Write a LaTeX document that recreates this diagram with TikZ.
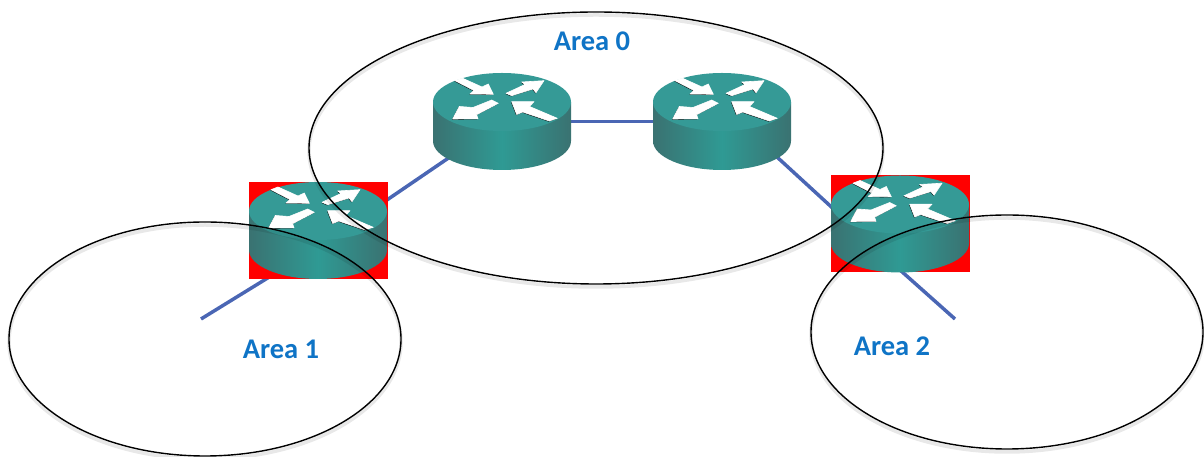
\documentclass[tikz,border=0pt]{standalone}
\usepackage{fontspec}
\setmainfont{Carlito}
\usetikzlibrary{shapes.geometric,backgrounds}

\definecolor{routertop}{HTML}{359A96}
\definecolor{routeredge}{HTML}{3A7271}
\definecolor{routermid}{HTML}{2F9A94}
\definecolor{linkblue}{HTML}{4A66B4}
\definecolor{labelblue}{HTML}{0F74C6}

\newcommand{\arrowpoly}[1]{
  \fill[black,shift={(-0.6,-0.6)}] #1;
  \filldraw[white,line width=0.6pt,line join=round] #1;
}

\tikzset{
  routerpic/.pic={
    \shade[left color=routeredge,right color=routeredge,middle color=routermid]
      (-69,19.5) -- (-69,-19.5) arc[start angle=180,end angle=360,x radius=69pt,y radius=29pt] -- (69,19.5) -- cycle;
    \fill[routertop] (0,19.5) ellipse[x radius=69pt,y radius=29pt];
    \arrowpoly{(-47,40.8) -- (-40,43.5) -- (-20,34.5) -- (-13.7,37.5) -- (-8.7,27.2) -- (-32,27.5) -- (-28,31) -- cycle}
    \arrowpoly{(4,28.2) -- (23,37) -- (19.7,39.5) -- (42,40.8) -- (34,28.8) -- (31,32.5) -- (9.7,25.8) -- cycle}
    \arrowpoly{(-3.7,18.2) -- (-10.3,21.5) -- (-29,14) -- (-42.7,15) -- (-49.3,2.5) -- (-24,2.7) -- (-25.4,6.8) -- cycle}
    \arrowpoly{(9.7,19.8) -- (32,19.8) -- (27.5,15) -- (55.3,3.2) -- (47.3,0.5) -- (20.7,9.5) -- (14.7,7) -- cycle}
  }
}

\begin{document}
\begin{tikzpicture}[x=1pt,y=1pt]
% Define the node styles
\tikzstyle{router} = [rectangle, minimum width=138pt, minimum height=99pt, inner sep=0pt, outer sep=0pt]
\tikzstyle{border} = [router, fill=red, minimum width=139pt, minimum height=97pt]
\tikzstyle{area} = [draw=black, ellipse, line width=1.4pt, inner sep=0pt, outer sep=0pt,
  preaction={draw=black, draw opacity=0.09, line width=3.5pt, transform canvas={yshift=-3pt}}]
\tikzstyle{arealabel} = [text=labelblue, font=\fontsize{28.5}{32}\selectfont\bfseries, inner sep=0pt]
\tikzstyle{link} = [draw=linkblue, line width=3.5pt]

\useasboundingbox (0,0) rectangle (1204,457);

% Define the nodes
\node[router] (R1) at (502,335.5) {};
\node[router] (R2) at (722,335.5) {};
\node[border] (B1) at (318,226.5) {};
\node[border] (B2) at (900,233) {};
\coordinate (E1) at (201,138);
\coordinate (E2) at (955,138);

% Define the links
\begin{pgfonlayer}{background}
\draw[link] (R1.center) -- (R2.center);
\draw[link] (R1.center) -- ([yshift=-16.5pt]B1.center);
\draw[link] ([yshift=-16.5pt]B1.center) -- (E1);
\draw[link] ([yshift=15pt]R2.center) -- ([yshift=-46pt]B2.center);
\draw[link] ([yshift=-46pt]B2.center) -- (E2);
\end{pgfonlayer}

% Add the routers
\pic at (R1) {routerpic};
\pic at (R2) {routerpic};
\pic at (B1) {routerpic};
\pic at (B2) {routerpic};

% Define the areas
\node[area, minimum width=574pt, minimum height=272pt] (A0) at (596,309) {};
\node[area, minimum width=392pt, minimum height=234pt] (A1) at (205,118) {};
\node[area, minimum width=392pt, minimum height=234pt] (A2) at (1007,125) {};

\node[arealabel] (L0) at (592,416) {Area 0};
\node[arealabel] (L1) at (281,108) {Area 1};
\node[arealabel] (L2) at (892,111) {Area 2};

\end{tikzpicture}
\end{document}
